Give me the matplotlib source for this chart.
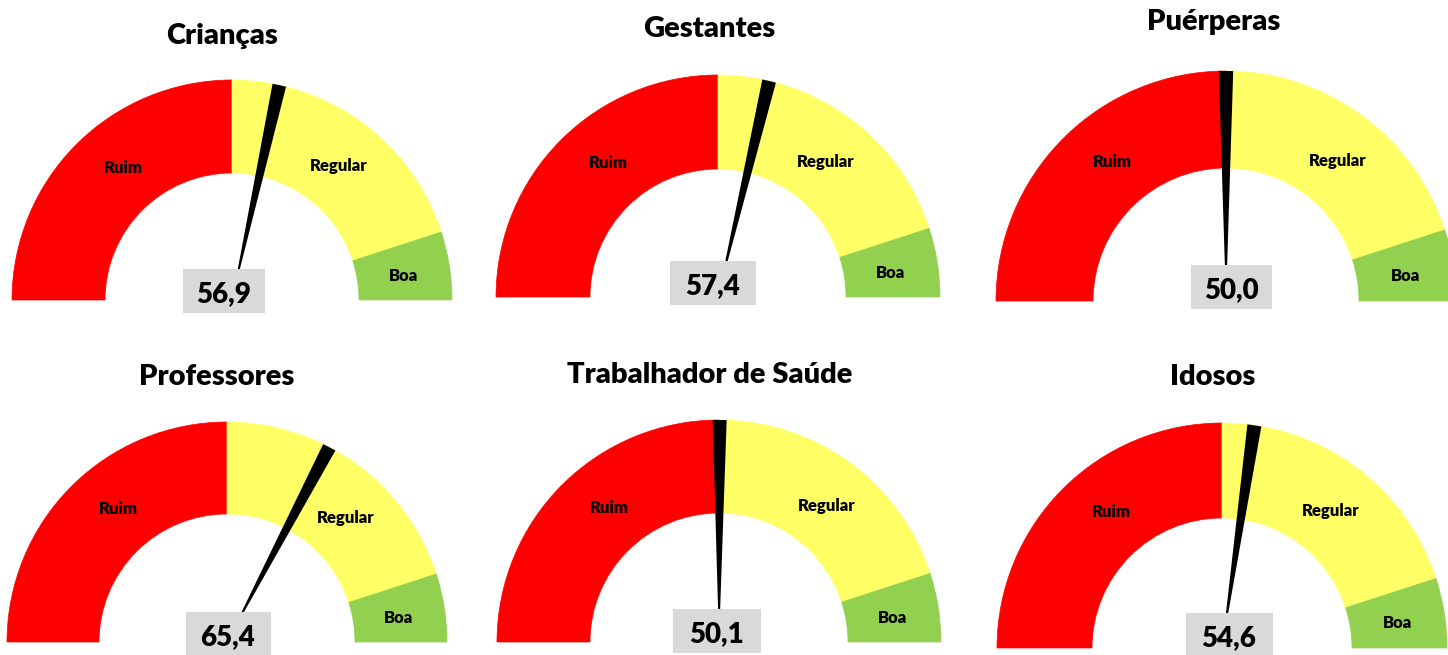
import math
import matplotlib.pyplot as plt
from matplotlib.patches import Wedge, Rectangle

# data
groups = ['Crianças', 'Gestantes', 'Puérperas', 'Professores', 'Trabalhador de Saúde', 'Idosos']
values = [56.9, 57.4, 50.0, 65.4, 50.1, 54.6]
band_edges = [0, 50, 90, 100]
band_labels = ['Ruim', 'Regular', 'Boa']
band_colors = ['#FF0000', '#FFFF66', '#92D050']
label_at = [28.5, 71, 95]  # where the band names sit on the scale
regular_at = [71, 71, 71, 74, 71, 71]  # Professores label moved off the needle

# layout (pixels from top-left of the picture)
W, H = 1448, 655
cx = [232, 718, 1226, 227, 719, 1222]
cy = [300, 297, 301, 642, 642, 648]
r_out = [220, 222, 230, 220, 222, 225]
r_in = [127, 128, 133, 128, 129, 130]
title_x = [222, 709, 1214, 217, 710, 1213]
title_base = [44, 37, 30, 385, 383, 385]
box_x = [224, 713, 1231, 228, 717, 1229]
box_top = [269, 261, 265, 612, 609, 613]
box_w = [82, 86, 81, 85, 88, 87]
box_h = 44

plt.rcParams['font.family'] = ['Lato', 'DejaVu Sans']

fig = plt.figure(figsize=(W / 100, H / 100), dpi=100)
ax = fig.add_axes([0, 0, 1, 1])
ax.set_xlim(0, W)
ax.set_ylim(0, H)
ax.axis('off')


def ang(v):
    return 180 - 1.8 * v


for i, name in enumerate(groups):
    c = (cx[i], H - cy[i])
    ro, ri = r_out[i], r_in[i]
    rm = (ro + ri) / 2
    pos = [label_at[0], regular_at[i], label_at[2]]

    for k in range(3):
        ax.add_patch(Wedge(c, ro, ang(band_edges[k + 1]), ang(band_edges[k]),
                           width=ro - ri, facecolor=band_colors[k],
                           edgecolor=band_colors[k], lw=0.5, zorder=1))
        a = math.radians(ang(pos[k]))
        ax.text(c[0] + rm * math.cos(a), c[1] + rm * math.sin(a) - 3, band_labels[k],
                ha='center', va='center', fontsize=12, fontweight='heavy', zorder=3)

    # needle
    v = values[i]
    ax.add_patch(Wedge(c, ro, ang(v + 1), ang(v - 1), facecolor='black',
                       edgecolor='none', zorder=2))

    # value box
    ax.add_patch(Rectangle((box_x[i] - box_w[i] / 2, H - box_top[i] - box_h),
                           box_w[i], box_h, facecolor='#D9D9D9',
                           edgecolor='none', zorder=4))
    ax.text(box_x[i], H - box_top[i] - 33, f'{v:.1f}'.replace('.', ','),
            ha='center', va='baseline', fontsize=20, fontweight='heavy', zorder=5)

    ax.text(title_x[i], H - title_base[i], name, ha='center', va='baseline',
            fontsize=21, fontweight='heavy')

fig.savefig('out.png', dpi=100)
